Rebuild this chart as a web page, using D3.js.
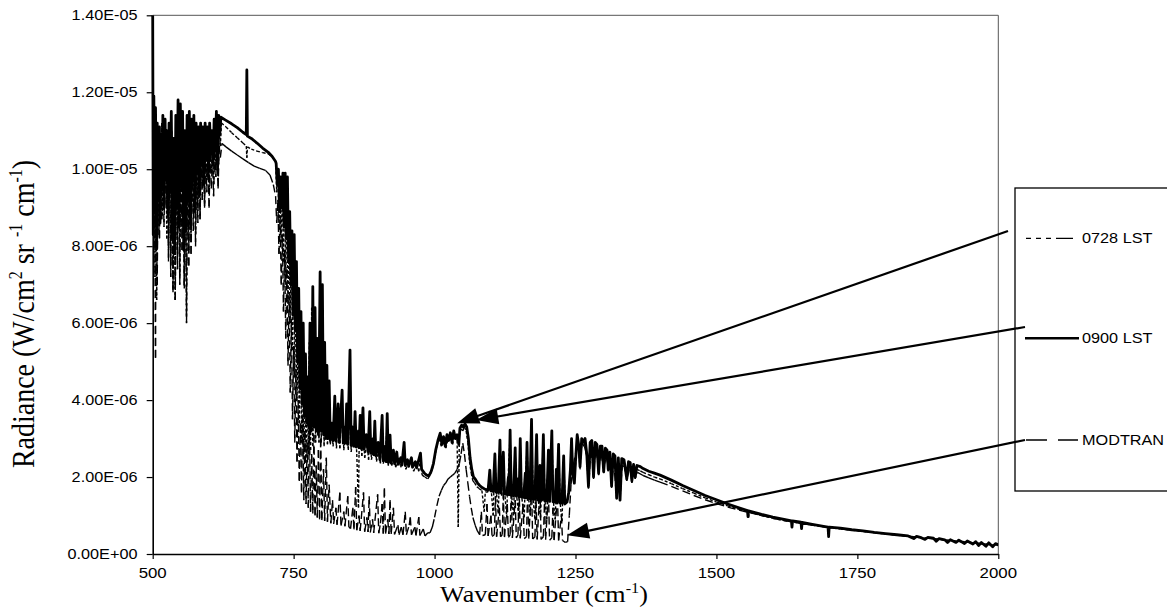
<!DOCTYPE html>
<html>
<head>
<meta charset="utf-8">
<script src="https://cdn.jsdelivr.net/npm/d3@7"></script>
<style>
  html, body { margin: 0; padding: 0; background: #fff; }
  svg { display: block; }
</style>
</head>
<body>
<svg id="chart" width="1167" height="613"></svg>
<script>
// Downwelling radiance spectra, [wavenumber cm^-1, radiance in 1e-6 W/cm^2 sr^-1 cm^-1]

const lst0900 = [
  [500,14.0],[501,8.3],[502,11.9],[504,9.0],[505,11.6],[507,8.0],[508,11.2],[510,9.2],[512,11.1],[513,8.6],
  [515,10.9],[517,9.5],[518,11.4],[520,9.0],[522,11.3],[523,9.8],[525,11.0],[527,8.8],[529,11.2],[531,9.4],
  [533,11.5],[535,8.2],[537,10.8],[539,7.8],[541,11.4],[543,9.0],[545,11.8],[547,8.5],[549,11.7],[551,9.6],
  [553,11.5],[555,7.9],[557,11.0],[559,8.4],[561,11.4],[563,9.2],[565,11.5],[567,8.6],[569,11.3],[571,9.7],
  [573,11.4],[575,8.9],[577,11.2],[579,9.9],[581,11.1],[583,9.4],[585,11.2],[587,10.1],[589,11.1],[591,9.6],
  [593,11.2],[595,10.3],[597,11.1],[599,9.9],[601,11.2],[603,10.4],[605,11.0],[607,10.1],[609,11.3],[611,10.5],
  [613,11.5],[615,10.0],[617,11.4],[619,10.9],[621,11.35],
  [630,11.27],[640,11.18],[650,11.08],[660,10.96],[666,10.9],[667,12.58],[668,10.86],[675,10.8],[685,10.68],
  [695,10.55],[705,10.44],[712,10.33],[718,10.2],
  [719,10.15],[721,9.6],[723,10.0],[725,8.9],[727,9.8],[729,9.0],[731,9.9],[733,8.5],[735,9.9],[737,8.2],
  [739,9.8],[741,7.6],[743,8.9],[745,7.0],[747,8.4],[749,6.2],[751,8.3],[753,5.8],[755,7.6],[757,5.0],
  [759,6.9],[761,4.3],[763,6.3],[765,3.9],[767,6.0],[769,3.6],[771,5.2],[773,3.4],[775,4.6],[777,3.3],
  [779,6.0],[781,3.2],[783,5.0],[784,6.95],[786,3.3],[788,6.4],[790,3.2],[792,5.6],[794,3.1],[797,7.33],
  [799,3.2],[801,7.0],[803,3.1],[805,5.5],[807,3.0],[809,4.9],[811,3.0],[813,4.5],[815,2.95],
  [818,3.4],[820,2.95],[823,4.1],[825,2.93],[829,3.9],[831,2.9],[836,4.26],[838,2.88],[841,3.3],[842,2.88],
  [844,3.9],[846,2.85],[850,5.3],[852,2.82],[855,3.3],[857,2.8],[859,3.7],[861,2.78],[865,3.2],[866,2.76],
  [868,3.6],[870,2.74],[873,3.8],[875,2.72],[879,3.1],[882,2.66],[885,3.7],[887,2.62],[891,3.0],[892,2.58],
  [894,3.45],[896,2.55],[900,2.9],[903,2.45],[907,3.6],[909,2.42],[913,2.8],[914,2.4],[916,3.65],[918,2.38],
  [921,3.09],[923,2.36],[927,2.7],[929,2.35],[933,2.65],[935,2.33],[940,2.5],[942,2.31],[946,2.9],[948,2.3],
  [952,2.45],[954,2.28],[959,2.5],[961,2.26],[966,2.4],[968,2.24],[972,2.45],[975,2.62],[977,2.2],[982,2.1],
  [986,2.05],[990,2.03],[994,2.15],
  [998,2.35],[1002,2.7],[1006,2.95],[1010,3.14],[1013,2.85],[1016,3.05],[1019,2.8],[1022,3.1],[1025,2.95],
  [1028,3.15],[1031,2.9],[1034,3.2],[1037,3.0],[1040,3.1],[1043,2.85],[1045,3.27],[1048,3.35],[1051,3.3],
  [1054,3.38],[1057,3.3],[1060,3.0],[1063,2.5],[1066,2.2],[1069,2.0],[1072,1.95],[1076,1.85],[1080,1.78],
  [1085,1.72],[1090,1.68],
  [1095,1.66],[1098,2.18],[1100,1.64],[1104,1.63],[1107,2.6],[1109,1.61],[1113,1.6],[1116,2.96],[1118,1.58],
  [1122,2.65],[1124,1.56],[1128,1.55],[1131,2.0],[1132,1.54],[1134,3.22],[1136,1.53],[1140,1.52],[1143,2.76],
  [1145,1.5],[1148,1.95],[1150,1.49],[1152,3.0],[1154,1.48],[1158,1.47],[1161,2.1],[1162,1.46],[1164,2.9],
  [1166,1.45],[1169,1.44],[1172,3.5],[1174,1.43],[1178,1.42],[1181,3.1],[1183,1.41],[1187,2.3],[1188,1.4],
  [1190,1.4],[1193,3.1],[1195,1.39],[1199,1.38],[1202,2.7],[1204,1.37],[1208,3.2],[1210,1.36],[1214,1.35],
  [1216,2.2],[1217,1.34],[1220,2.85],[1222,1.33],[1226,1.32],[1229,2.55],[1231,1.3],[1235,1.35],[1238,1.6],
  [1241,2.2],[1243,3.0],[1245,2.1],[1248,1.84],[1250,2.4],
  [1253,3.1],[1256,2.8],[1258,2.27],[1261,3.0],[1264,2.9],[1267,3.0],[1270,2.6],[1273,1.75],[1276,2.9],
  [1279,2.95],[1282,2.0],[1285,2.9],[1288,2.85],[1291,2.1],[1294,2.8],[1297,2.8],[1300,2.14],[1303,2.75],
  [1306,2.7],[1308,2.2],[1311,2.65],[1314,1.77],[1317,2.6],[1320,2.55],[1323,1.45],[1326,2.5],[1329,1.4],
  [1332,2.48],[1336,2.45],[1341,1.95],[1344,2.4],[1347,2.38],[1350,1.9],[1353,2.33],[1356,2.0],[1359,2.3],
  [1365,2.27],[1370,2.22],[1380,2.15],[1390,2.1],[1400,2.05],
  [1420,1.92],[1440,1.78],[1460,1.65],[1480,1.52],[1500,1.41],[1520,1.30],[1540,1.20],[1555,1.13],[1556,0.97],
  [1557,1.12],[1580,1.03],[1600,0.96],[1620,0.90],[1633,0.86],[1634,0.70],[1635,0.86],[1650,0.83],[1651,0.66],
  [1652,0.82],[1670,0.77],[1690,0.72],[1698,0.70],[1699,0.45],[1700,0.70],[1720,0.67],[1740,0.63],[1760,0.60],
  [1780,0.56],[1800,0.53],[1820,0.50],[1840,0.47],[1850,0.40],[1855,0.46],[1860,0.44],[1870,0.38],[1875,0.43],
  [1885,0.41],[1890,0.33],[1895,0.40],[1905,0.37],[1910,0.30],[1915,0.37],[1925,0.30],[1930,0.36],[1940,0.27],
  [1945,0.34],[1955,0.26],[1960,0.32],[1965,0.22],[1970,0.30],[1978,0.20],[1983,0.29],[1990,0.19],[1995,0.27],
  [2000,0.24]
];

const lst0728 = [
  [500,12.2],[501,9.5],[503,11.0],[504,7.2],[506,10.8],[507,6.6],[509,10.4],[511,8.3],[512,10.9],[514,9.0],
  [516,11.2],[517,8.8],[519,10.6],[521,9.6],[523,11.0],[525,8.2],[527,10.9],[528,7.9],[530,10.5],[532,7.5],
  [534,11.0],[536,6.9],[538,10.2],[540,6.6],[542,11.1],[544,7.8],[546,11.6],[548,7.2],[550,11.3],[552,8.4],
  [554,10.9],[556,7.0],[558,10.4],[560,6.2],[562,10.9],[564,7.9],[566,11.0],[568,8.1],[570,10.8],[572,8.9],
  [574,11.0],[576,8.3],[578,10.7],[580,9.0],[582,10.9],[584,8.8],[586,10.8],[588,9.5],[590,10.9],[592,9.1],
  [594,10.8],[596,9.8],[598,10.9],[600,9.4],[602,10.8],[604,9.9],[606,10.6],[608,9.6],[610,10.9],[612,10.2],
  [614,11.2],[616,9.7],[618,11.0],[620,10.6],[622,11.2],
  [630,11.1],[640,10.95],[650,10.82],[660,10.68],[666,10.6],[667,10.3],[668,10.58],[675,10.52],[685,10.47],
  [695,10.43],[705,10.4],[712,10.32],[718,10.2],
  [720,9.4],[722,10.0],[724,8.6],[726,9.7],[728,8.1],[730,9.5],[732,7.6],[734,9.6],[736,7.0],[738,9.2],
  [740,6.5],[742,8.5],[744,6.0],[746,8.1],[748,5.3],[750,7.6],[752,4.6],[754,7.0],[756,4.0],[758,6.2],
  [760,3.4],[762,5.8],[764,2.9],[766,5.2],[768,2.6],[770,4.8],[772,2.5],[774,4.3],[776,2.6],[778,5.5],
  [780,2.7],[782,6.4],[784,2.8],[787,5.8],[789,2.9],[792,4.9],[795,2.9],[797,6.8],[799,2.9],[802,6.3],
  [804,2.8],[807,4.6],[810,2.85],[813,4.0],[815,2.85],
  [818,3.2],[820,2.8],[823,3.8],[826,2.75],[829,3.6],[832,2.75],[836,4.0],[839,2.7],[844,3.6],[847,2.7],
  [850,5.0],[852,2.65],[856,3.1],[859,3.5],[862,2.6],[865,1.2],[866,2.6],[868,3.4],[871,2.55],[873,3.6],
  [876,2.5],[880,2.9],[883,2.45],[885,3.5],[888,2.45],[892,2.8],[894,3.3],[897,2.4],[901,2.7],[904,2.35],
  [907,3.4],[909,2.35],[913,2.6],[916,3.4],[918,2.3],[921,2.9],[924,2.3],[928,2.6],[931,2.25],[936,2.5],
  [940,2.25],[946,2.75],[949,2.2],[954,2.4],[959,2.3],[963,2.15],[968,2.35],[972,2.15],[975,2.5],[978,2.05],
  [983,2.0],[988,1.95],[992,2.05],[996,2.2],
  [1000,2.5],[1004,2.8],[1008,3.0],[1012,2.8],[1016,2.95],[1020,2.75],[1024,3.0],[1028,3.05],[1032,2.85],
  [1036,3.1],[1040,2.95],[1042,0.7],[1044,3.1],[1047,3.25],[1050,3.2],[1053,3.3],[1056,3.2],[1059,2.9],
  [1062,2.4],[1065,2.1],[1068,1.9],[1071,1.85],[1075,1.75],[1079,1.7],[1084,1.65],[1088,1.1],[1090,1.62],
  [1094,1.6],[1098,2.1],[1101,1.58],[1104,1.0],[1105,1.56],[1107,2.5],[1110,1.55],[1113,1.05],[1114,1.54],
  [1116,2.85],[1119,1.52],[1122,2.55],[1125,1.5],[1128,0.95],[1129,1.5],[1134,3.1],[1137,1.48],[1140,1.0],
  [1141,1.47],[1143,2.65],[1146,1.46],[1149,1.0],[1150,1.45],[1152,2.9],[1155,1.44],[1159,0.95],[1160,1.43],
  [1164,2.8],[1167,1.42],[1170,1.0],[1171,1.41],[1172,3.35],[1175,1.4],[1178,0.9],[1179,1.4],[1181,3.0],
  [1184,1.38],[1188,0.95],[1189,1.38],[1193,3.0],[1196,1.36],[1199,0.9],[1200,1.35],[1202,2.6],[1205,1.34],
  [1208,3.1],[1211,1.33],[1214,0.9],[1215,1.32],[1220,2.75],[1223,1.3],[1226,0.85],[1227,1.3],[1229,2.45],
  [1232,1.3],[1236,1.4],[1240,1.9],[1243,2.9],[1246,2.0],[1250,2.3],
  [1253,3.0],[1256,2.7],[1258,2.2],[1261,2.9],[1264,2.8],[1267,2.9],[1270,2.5],[1273,1.7],[1276,2.8],
  [1279,2.85],[1282,1.95],[1285,2.8],[1288,2.75],[1291,2.05],[1294,2.7],[1297,2.7],[1300,2.1],[1303,2.65],
  [1306,2.6],[1308,2.15],[1311,2.55],[1314,1.72],[1317,2.5],[1320,2.45],[1323,1.42],[1326,2.4],[1329,1.38],
  [1332,2.38],[1336,2.35],[1341,1.9],[1344,2.3],[1347,2.28],[1350,1.85],[1353,2.24],[1356,1.95],[1359,2.2],
  [1365,2.16],[1370,2.12],[1380,2.06],[1390,2.0],[1400,1.95],
  [1420,1.83],[1440,1.70],[1460,1.58],[1480,1.46],[1500,1.35],[1520,1.25],[1540,1.16],[1556,1.09],[1557,0.95],
  [1558,1.09],[1580,1.0],[1600,0.93],[1620,0.87],[1650,0.80],[1670,0.75],[1690,0.71],[1720,0.65],[1740,0.62],
  [1760,0.59],[1780,0.55],[1800,0.52],[1820,0.49],[1840,0.46],[1860,0.43],[1880,0.40],[1900,0.37],[1920,0.34],
  [1940,0.31],[1960,0.28],[1980,0.25],[2000,0.22]
];

const modtran = [
  [500,10.0],[502,8.0],[503,10.6],[505,5.1],[506,10.3],[508,7.0],[510,10.6],[512,8.2],[514,10.4],[516,8.7],
  [518,10.7],[520,8.5],[522,10.2],[524,9.0],[526,10.4],[528,7.6],[530,10.1],[532,7.2],[534,10.5],[536,6.8],
  [538,9.9],[540,6.6],[542,10.6],[544,7.4],[546,10.8],[548,7.0],[550,10.9],[552,7.9],[554,10.3],[556,6.9],
  [558,9.8],[560,6.0],[562,10.2],[564,7.5],[566,10.5],[568,7.8],[570,10.3],[572,8.4],[574,10.5],[576,8.0],
  [578,10.2],[580,8.6],[582,10.4],[584,8.7],[586,10.3],[588,9.2],[590,10.5],[592,9.0],[594,10.4],[596,9.4],
  [598,10.5],[600,9.0],[602,10.4],[604,9.5],[606,10.3],[608,9.3],[610,10.5],[612,9.8],[614,10.7],[616,9.5],
  [618,10.6],[620,10.3],[623,10.67],
  [630,10.58],[640,10.47],[650,10.37],[660,10.27],[670,10.17],[680,10.08],[690,10.02],[700,9.97],[708,9.85],
  [714,9.6],[718,9.3],
  [720,8.6],[722,9.2],[724,7.8],[726,8.8],[728,7.0],[730,8.3],[732,6.3],[734,7.9],[736,5.6],[738,7.4],
  [740,4.9],[742,6.8],[744,4.2],[746,6.1],[748,3.5],[750,5.4],[752,2.9],[754,4.8],[756,2.4],[758,4.0],
  [760,1.9],[762,3.4],[764,1.6],[766,3.6],[768,1.4],[770,3.2],[772,1.3],[774,2.9],[776,1.2],[778,3.4],
  [780,1.1],[782,2.6],[784,1.05],[786,3.1],[788,1.0],[790,2.3],[792,0.95],[794,2.7],[796,0.9],[798,3.0],
  [800,0.88],[803,2.2],[805,0.86],[808,2.5],[810,0.84],[813,1.8],[816,0.8],
  [819,1.4],[821,0.78],[825,1.2],[827,0.76],[832,1.6],[834,0.74],[839,1.1],[841,0.72],[846,1.5],[848,0.7],
  [851,0.66],[855,1.2],[857,0.64],[860,1.74],[862,0.62],[866,1.0],[868,0.6],[874,1.6],[876,0.58],[880,0.95],
  [882,0.57],[884,1.5],[886,0.56],[890,0.9],[892,0.55],[899,1.55],[901,0.54],[904,0.8],[907,1.3],[909,0.53],
  [911,1.71],[913,0.53],[917,0.9],[919,0.52],[921,1.4],[923,0.52],[927,1.2],[929,0.51],[935,0.75],[937,0.5],
  [941,0.7],[944,0.5],[948,1.1],[950,0.5],[955,0.75],[957,0.95],[959,0.5],[965,0.7],[967,0.48],[972,0.96],
  [974,0.48],[980,0.65],[983,0.47],[988,0.55],[992,0.55],
  [996,0.7],[1000,0.95],[1004,1.25],[1008,1.5],[1012,1.65],[1016,1.78],[1020,1.85],[1024,1.95],[1028,2.0],
  [1032,2.05],[1036,2.1],[1040,2.2],[1044,2.35],[1047,2.6],[1050,2.88],[1053,2.6],[1056,2.2],[1059,1.85],
  [1062,1.5],[1065,1.2],[1068,0.95],[1072,0.75],[1076,0.6],[1080,0.5],
  [1083,1.1],[1085,0.48],[1090,0.5],[1093,1.3],[1095,0.47],[1100,1.0],[1102,0.46],[1106,0.5],[1108,1.5],
  [1110,0.45],[1115,1.2],[1117,0.45],[1120,0.5],[1122,1.6],[1124,0.44],[1129,1.3],[1131,0.43],[1134,0.5],
  [1136,1.7],[1138,0.42],[1143,1.4],[1145,0.42],[1148,0.5],[1150,1.75],[1152,0.41],[1157,1.3],[1159,0.4],
  [1163,0.45],[1165,1.6],[1167,0.4],[1172,1.8],[1174,0.39],[1178,0.45],[1180,1.4],[1182,0.38],[1187,1.7],
  [1189,0.38],[1193,0.45],[1195,1.3],[1197,0.37],[1202,1.6],[1204,0.36],[1208,0.42],[1210,1.2],[1212,0.36],
  [1218,1.5],[1220,0.35],[1225,1.0],[1227,0.35],[1232,0.3],[1236,0.32],[1239,1.0],[1242,1.8],[1246,2.3],
  [1250,2.6],
  [1254,2.9],[1258,2.6],[1262,2.85],[1266,2.8],[1270,2.55],[1274,1.9],[1277,2.7],[1282,2.2],[1286,2.7],
  [1291,2.3],[1295,2.62],[1300,2.25],[1304,2.55],[1308,2.3],[1312,2.48],[1315,1.95],[1318,2.42],[1322,1.6],
  [1325,2.36],[1329,1.55],[1333,2.3],[1338,2.26],[1342,2.0],[1346,2.22],[1352,2.18],[1356,2.05],[1360,2.12],
  [1370,2.04],[1380,1.98],[1390,1.92],[1400,1.87],
  [1420,1.76],[1440,1.64],[1460,1.52],[1480,1.41],[1500,1.31],[1520,1.22],[1540,1.14],[1560,1.07],[1580,1.0],
  [1600,0.93],[1620,0.87],[1640,0.82],[1660,0.77],[1680,0.73],[1700,0.69],[1730,0.64],[1760,0.59],[1790,0.54],
  [1820,0.49],[1850,0.45],[1880,0.41],[1910,0.36],[1940,0.32],[1970,0.27],[2000,0.23]
];

const xTicks = [500, 750, 1000, 1250, 1500, 1750, 2000];
const yTicks = [0, 2, 4, 6, 8, 10, 12, 14];
const yTickLabels = ["0.00E+00", "2.00E-06", "4.00E-06", "6.00E-06", "8.00E-06", "1.00E-05", "1.20E-05", "1.40E-05"];
const seriesNames = ["0728 LST", "0900 LST", "MODTRAN"];
// where each legend arrow points, in data units [wavenumber, radiance]
const arrowTargets = [[1040, 3.40], [1074, 3.48], [1235, 0.49]];

const svg = d3.select("#chart");
const SANS = "'Liberation Sans', Arial, sans-serif";
const SERIF = "'Liberation Serif', 'Times New Roman', serif";
const STRETCH = 1.16;

const x = d3.scaleLinear().domain([500, 2000]).range([152.7, 998.3]);
const y = d3.scaleLinear().domain([0, 14]).range([554, 15.3]);
const [x0, x1] = x.range();
const [yb, yt] = y.range();

// plot frame (top and right edges)
svg.append("path")
  .attr("d", `M${x0},${yt}H${x1}V${yb}`)
  .attr("fill", "none").attr("stroke", "#555").attr("stroke-width", 1);

svg.append("defs").append("clipPath").attr("id", "plot-clip")
  .append("rect").attr("x", x0 - 2).attr("y", yt).attr("width", x1 - x0 + 2).attr("height", yb - yt);

const plot = svg.append("g").attr("clip-path", "url(#plot-clip)");

// dashed series are drawn segment by segment so the dash pattern restarts at each sample
function drawSegments(data, dash, width) {
  const segs = d3.pairs(data);
  plot.append("g")
    .selectAll("line").data(segs).join("line")
    .attr("x1", d => x(d[0][0])).attr("y1", d => y(d[0][1]))
    .attr("x2", d => x(d[1][0])).attr("y2", d => y(d[1][1]))
    .attr("stroke", "#000").attr("stroke-width", width)
    .attr("stroke-dasharray", dash);
}

drawSegments(modtran, "8,4", 1.4);
drawSegments(lst0728, "3,2", 1.4);

plot.append("path")
  .datum(lst0900)
  .attr("d", d3.line().x(d => x(d[0])).y(d => y(d[1])))
  .attr("fill", "none").attr("stroke", "#000")
  .attr("stroke-width", 2.8).attr("stroke-linejoin", "round");

// axes
const xAxis = svg.append("g").attr("transform", `translate(0,${yb})`)
  .call(d3.axisBottom(x).tickValues(xTicks).tickSize(5).tickSizeOuter(0).tickFormat(""));
const yAxis = svg.append("g").attr("transform", `translate(${x0},0)`)
  .call(d3.axisLeft(y).tickValues(yTicks).tickSize(6).tickSizeOuter(0).tickFormat(""));
[xAxis, yAxis].forEach(a => {
  a.select(".domain").attr("stroke", "#000").attr("stroke-width", 1.6);
  a.selectAll(".tick line").attr("stroke", "#000").attr("stroke-width", 1.2);
});

svg.append("g").selectAll("text").data(xTicks).join("text")
  .attr("transform", d => `translate(${x(d)},577.5) scale(${STRETCH},1)`)
  .attr("text-anchor", "middle")
  .attr("font-family", SANS).attr("font-size", 14.5).attr("fill", "#000")
  .text(d => d);

svg.append("g").selectAll("text").data(yTicks).join("text")
  .attr("transform", d => `translate(137.5,${y(d) + 5}) scale(${STRETCH},1)`)
  .attr("text-anchor", "end")
  .attr("font-family", SANS).attr("font-size", 14).attr("fill", "#000")
  .text((d, i) => yTickLabels[i]);

// axis titles
const yTitle = svg.append("text")
  .attr("transform", `translate(34,314) scale(${STRETCH},1) rotate(-90)`)
  .attr("text-anchor", "middle")
  .attr("font-family", SERIF).attr("font-size", 28).attr("fill", "#000");
yTitle.append("tspan").text("Radiance (W/cm");
yTitle.append("tspan").attr("font-size", 16).attr("dy", -10).text("2");
yTitle.append("tspan").attr("dy", 10).text(" sr ");
yTitle.append("tspan").attr("font-size", 16).attr("dy", -10).text("-1");
yTitle.append("tspan").attr("dy", 10).text(" cm");
yTitle.append("tspan").attr("font-size", 16).attr("dy", -10).text("-1");
yTitle.append("tspan").attr("dy", 10).text(")");

const xTitle = svg.append("text")
  .attr("transform", `translate(544,602) scale(${STRETCH},1)`)
  .attr("text-anchor", "middle")
  .attr("font-family", SERIF).attr("font-size", 22.5).attr("fill", "#000");
xTitle.append("tspan").text("Wavenumber (cm");
xTitle.append("tspan").attr("font-size", 14).attr("dy", -9).text("-1");
xTitle.append("tspan").attr("dy", 9).text(")");

// legend
const legendX = 1015, legendTop = 188, legendBottom = 491;
svg.append("rect")
  .attr("x", legendX).attr("y", legendTop)
  .attr("width", 180).attr("height", legendBottom - legendTop)
  .attr("fill", "none").attr("stroke", "#000").attr("stroke-width", 1.3);

const legendRows = [
  { name: seriesNames[0], y: 238.3, dash: "5,5,5,5,5,5,17", width: 1.3, x1: 1026, x2: 1073 },
  { name: seriesNames[1], y: 338.3, dash: null, width: 2.6, x1: 1025, x2: 1079 },
  { name: seriesNames[2], y: 440, dash: "21,11,21", width: 1.3, x1: 1026, x2: 1078 }
];
const lg = svg.append("g");
lg.selectAll("line").data(legendRows).join("line")
  .attr("x1", d => d.x1).attr("x2", d => d.x2)
  .attr("y1", d => d.y).attr("y2", d => d.y)
  .attr("stroke", "#000").attr("stroke-width", d => d.width)
  .attr("stroke-dasharray", d => d.dash);
lg.selectAll("text").data(legendRows).join("text")
  .attr("transform", d => `translate(1082,${d.y + 5}) scale(${STRETCH},1)`)
  .attr("font-family", SANS).attr("font-size", 14).attr("fill", "#000")
  .text(d => d.name);

// arrows from the legend entries to the curves
const arrowTails = [[legendX - 7, 231], [legendX + 10, 327], [legendX + 10, 440]];
const arrows = svg.append("g");
arrowTargets.forEach((t, i) => {
  const tx = x(t[0]), ty = y(t[1]);
  const [sx, sy] = arrowTails[i];
  const dx = tx - sx, dy = ty - sy, len = Math.hypot(dx, dy);
  const ux = dx / len, uy = dy / len;
  const headLen = 22, headHalf = 8;
  const bx = tx - ux * headLen, by = ty - uy * headLen;
  arrows.append("line")
    .attr("x1", sx).attr("y1", sy).attr("x2", bx + ux * 2).attr("y2", by + uy * 2)
    .attr("stroke", "#000").attr("stroke-width", 2.2);
  arrows.append("path")
    .attr("d", `M${tx},${ty}L${bx - uy * headHalf},${by + ux * headHalf}L${bx + uy * headHalf},${by - ux * headHalf}Z`)
    .attr("fill", "#000");
});
</script>
</body>
</html>
